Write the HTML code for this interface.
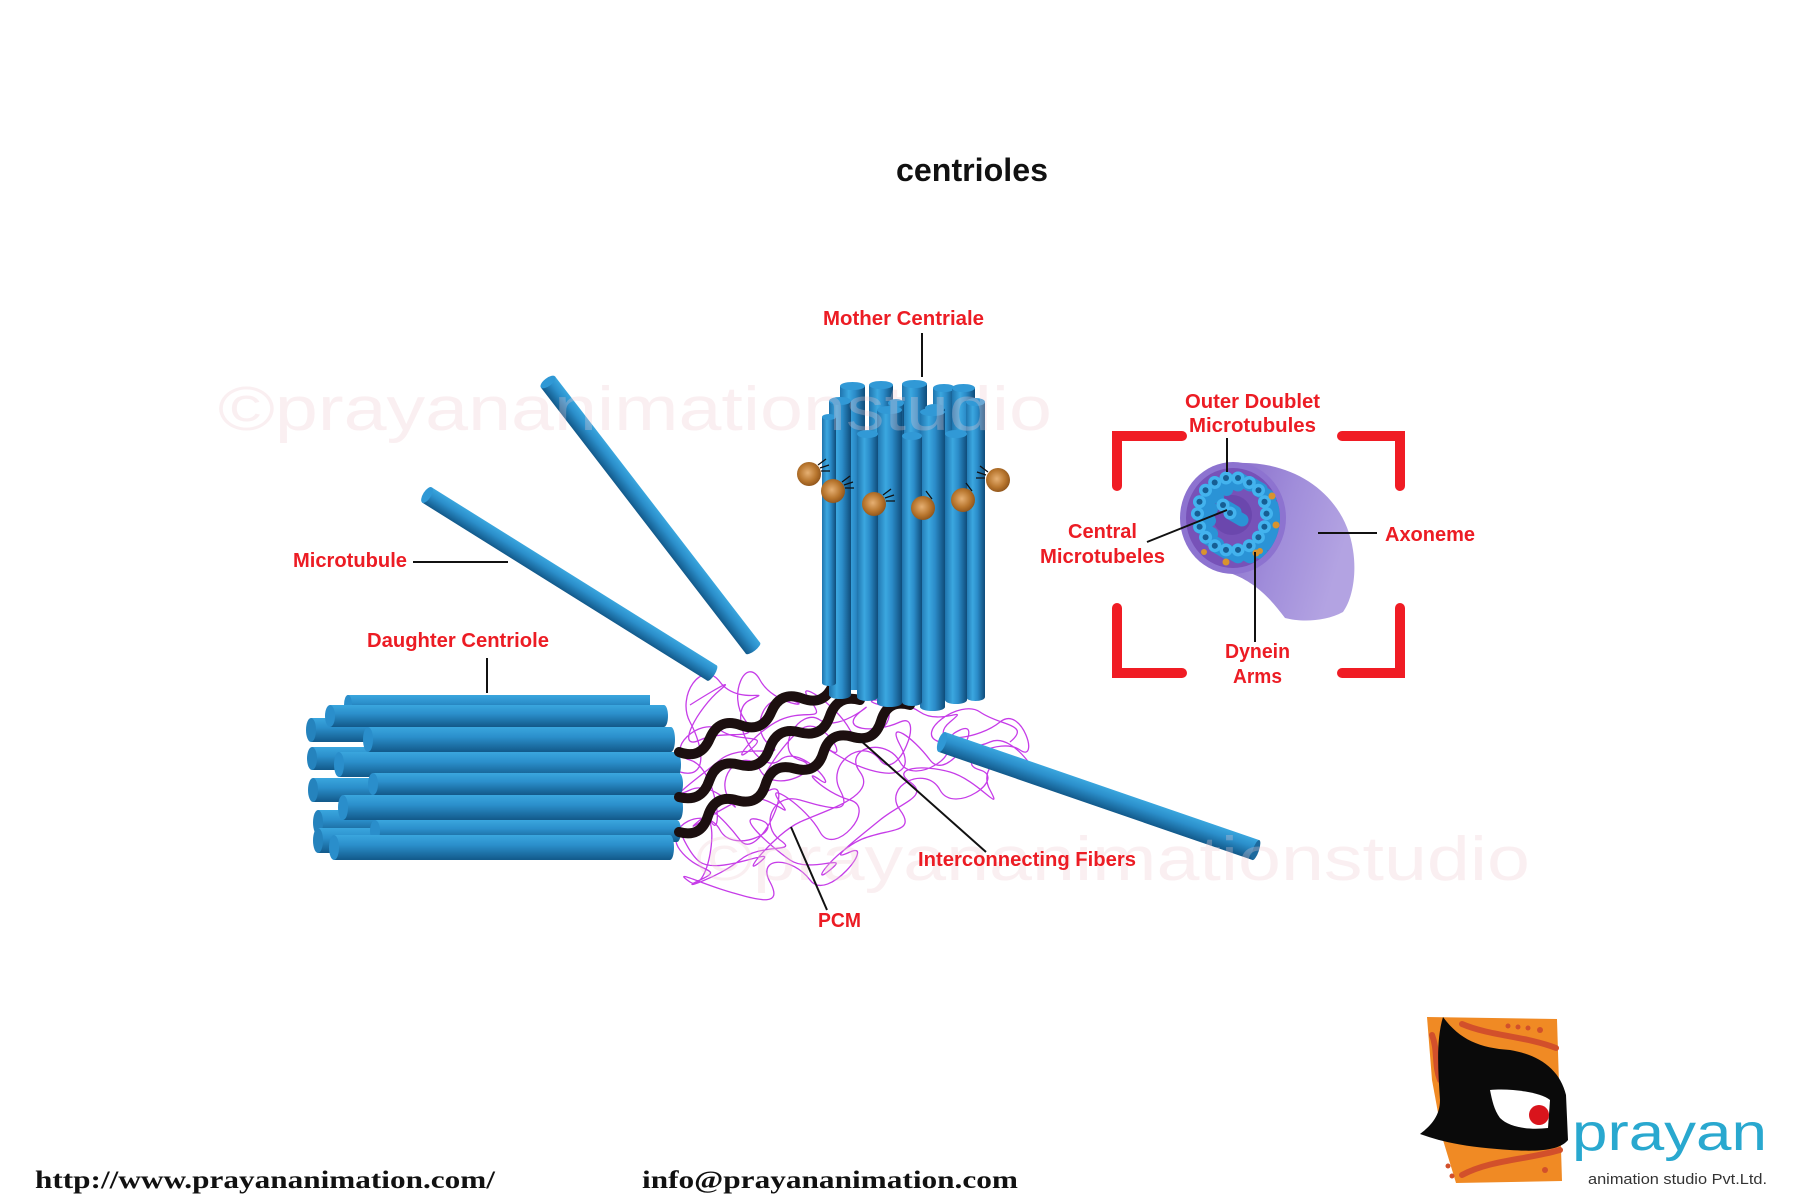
<!DOCTYPE html>
<html>
<head>
<meta charset="utf-8">
<style>
html,body{margin:0;padding:0;background:#fff;}
svg{display:block;}
.lbl{font-family:"Liberation Sans",Arial,sans-serif;font-weight:bold;fill:#ec1c24;font-size:20px;}
.ln{stroke:#111;stroke-width:2;fill:none;}
</style>
</head>
<body>
<svg width="1800" height="1200" viewBox="0 0 1800 1200" xmlns="http://www.w3.org/2000/svg">
<defs>
  <linearGradient id="vt" x1="0" y1="0" x2="1" y2="0">
    <stop offset="0" stop-color="#1f74ad"/>
    <stop offset="0.35" stop-color="#3ba7e0"/>
    <stop offset="0.6" stop-color="#2b8cc9"/>
    <stop offset="1" stop-color="#0f4c7a"/>
  </linearGradient>
  <linearGradient id="ht" x1="0" y1="0" x2="0" y2="1">
    <stop offset="0" stop-color="#3aa6de"/>
    <stop offset="0.4" stop-color="#2b8fcb"/>
    <stop offset="1" stop-color="#12598a"/>
  </linearGradient>
  <radialGradient id="ball" cx="0.45" cy="0.45" r="0.6">
    <stop offset="0" stop-color="#e6b073"/>
    <stop offset="0.6" stop-color="#b8762e"/>
    <stop offset="1" stop-color="#8a5018"/>
  </radialGradient>
  <linearGradient id="ax" x1="0" y1="0" x2="1" y2="0.3">
    <stop offset="0" stop-color="#7f60c4"/>
    <stop offset="0.6" stop-color="#a08dda"/>
    <stop offset="1" stop-color="#b3a3e2"/>
  </linearGradient>
  <clipPath id="faceclip"><ellipse cx="1233" cy="518" rx="47" ry="50"/></clipPath>
</defs>

<!-- Title -->
<text x="896" y="181" font-family="Liberation Sans, Arial, sans-serif" font-weight="bold" font-size="32" textLength="152" lengthAdjust="spacingAndGlyphs" fill="#111">centrioles</text>

<!-- PCM scribbles -->
<path fill="none" stroke="#c63ce8" stroke-width="1.3" d="M690,705 S742,672 720,690 S674,752 700,740 S763,744 745,720 S746,654 760,680 S818,708 790,700 S750,731 770,745 S742,742 720,760 S664,802 690,790 S748,824 730,800 S746,744 760,770 S828,768 800,760 S800,706 820,720 S882,694 860,712 S874,734 900,722 S898,784 880,760 S826,764 840,790 S828,808 800,800 S760,826 780,840 S762,842 740,860 S674,892 700,880 S698,874 680,850 S706,804 720,830 S788,828 760,820 S770,846 790,860 S852,852 830,870 S834,852 860,840 S918,834 900,810 S926,764 940,790 S1008,778 980,770 S1000,736 1020,750 S1022,704 1000,722 S934,742 960,730 S948,784 930,760 S886,719 900,745 S898,778 870,770 S810,736 830,750 S822,712 800,730 S744,802 770,790 S758,864 740,840 S696,794 710,820 S718,768 690,760 S700,716 720,730 S772,732 750,750 S754,732 780,720 S828,724 810,700 S836,704 850,730 S908,713 880,705 S900,698 920,712 S972,704 950,722 S964,754 990,742 S1048,792 1030,768 S976,764 990,790 S978,780 950,772 S890,768 910,782 S902,802 880,820 S824,864 850,852 S828,904 810,880 S756,856 770,882 S758,900 730,892 S670,868 690,882 S722,802 700,820 S714,812 740,800 S798,826 780,802 S806,806 820,832 S878,808 850,800 S800,766 820,780 S802,742 780,760 S724,712 750,700 S738,706 720,682 S676,696 690,722 S708,780 680,772 S680,848 700,862 S782,844 760,862 S774,834 800,822 S878,796 860,772 S886,736 900,762 S968,750 940,742 S960,698 980,712 S1032,724 1010,742"/>

<!-- Daughter centriole: back tubes -->
<g>
  <rect x="311" y="718" width="339" height="24" fill="url(#ht)"/><ellipse cx="311" cy="730" rx="5" ry="12" fill="#2583bd"/>
  <rect x="312" y="747" width="338" height="23" fill="url(#ht)"/><ellipse cx="312" cy="758.5" rx="5" ry="11.5" fill="#2583bd"/>
  <rect x="313" y="778" width="337" height="24" fill="url(#ht)"/><ellipse cx="313" cy="790" rx="5" ry="12" fill="#2583bd"/>
  <rect x="318" y="810" width="332" height="25" fill="url(#ht)"/><ellipse cx="318" cy="822.5" rx="5" ry="12.5" fill="#2583bd"/>
  <rect x="318" y="828" width="332" height="25" fill="url(#ht)"/><ellipse cx="318" cy="840.5" rx="5" ry="12.5" fill="#2583bd"/>
  <rect x="348" y="695" width="302" height="20" fill="url(#ht)"/><ellipse cx="348" cy="705" rx="4" ry="10" fill="#2a8ecb"/>
</g>
<!-- Daughter: front tubes -->
<g>
  <rect x="330" y="705" width="334" height="22" fill="url(#ht)"/><ellipse cx="330" cy="716" rx="5" ry="11" fill="#2a8ecb"/><ellipse cx="664" cy="716" rx="4" ry="11" fill="url(#ht)"/>
  <rect x="368" y="727" width="303" height="25" fill="url(#ht)"/><ellipse cx="368" cy="739.5" rx="5" ry="12.5" fill="#2a8ecb"/><ellipse cx="671" cy="739.5" rx="4" ry="12.5" fill="url(#ht)"/>
  <rect x="339" y="752" width="338" height="25" fill="url(#ht)"/><ellipse cx="339" cy="764.5" rx="5" ry="12.5" fill="#2a8ecb"/><ellipse cx="677" cy="764.5" rx="4" ry="12.5" fill="url(#ht)"/>
  <rect x="373" y="773" width="306" height="22" fill="url(#ht)"/><ellipse cx="373" cy="784" rx="5" ry="11" fill="#2a8ecb"/><ellipse cx="679" cy="784" rx="4" ry="11" fill="url(#ht)"/>
  <rect x="343" y="795" width="336" height="25" fill="url(#ht)"/><ellipse cx="343" cy="807.5" rx="5" ry="12.5" fill="#2a8ecb"/><ellipse cx="679" cy="807.5" rx="4" ry="12.5" fill="url(#ht)"/>
  <rect x="375" y="820" width="302" height="22" fill="url(#ht)"/><ellipse cx="375" cy="831" rx="5" ry="11" fill="#2a8ecb"/><ellipse cx="677" cy="831" rx="4" ry="11" fill="url(#ht)"/>
  <rect x="334" y="835" width="336" height="25" fill="url(#ht)"/><ellipse cx="334" cy="847.5" rx="5" ry="12.5" fill="#2a8ecb"/><ellipse cx="670" cy="847.5" rx="4" ry="12.5" fill="url(#ht)"/>
</g>

<!-- Interconnecting fibers -->
<g fill="none" stroke="#1c0f0f" stroke-width="10" stroke-linecap="round">
  <path d="M679,752 Q700.8,760 709.8,738.6 T740.6,725.2 T771.4,711.8 T802.2,698.4 T833,685"/>
  <path d="M679,797 Q701.6,803 709.2,780.8 T739.3,764.7 T769.5,748.5 T799.7,732.3 T829.8,716.2 T860,700"/>
  <path d="M679,832 Q701.1,838.1 707.9,816.1 T736.8,800.3 T765.6,784.4 T794.5,768.5 T823.4,752.6 T852.3,736.8 T881.1,720.9 T910,705"/>
</g>

<!-- Mother centriole tubes -->
<g>
  <rect x="840" y="386" width="25" height="304" fill="url(#vt)"/><ellipse cx="852.5" cy="386" rx="12.5" ry="4" fill="#3199d6"/>
  <rect x="869" y="385" width="24" height="305" fill="url(#vt)"/><ellipse cx="881" cy="385" rx="12" ry="4" fill="#3199d6"/>
  <rect x="902" y="384" width="25" height="306" fill="url(#vt)"/><ellipse cx="914.5" cy="384" rx="12.5" ry="4" fill="#3199d6"/>
  <rect x="933" y="388" width="22" height="302" fill="url(#vt)"/><ellipse cx="944" cy="388" rx="11" ry="4" fill="#3199d6"/>
  <rect x="952" y="388" width="23" height="302" fill="url(#vt)"/><ellipse cx="963.5" cy="388" rx="11.5" ry="4" fill="#3199d6"/>
  <rect x="829" y="401" width="22" height="294" fill="url(#vt)"/><ellipse cx="840" cy="401" rx="11" ry="4" fill="#3199d6"/><ellipse cx="840" cy="695" rx="11" ry="4" fill="url(#vt)"/>
  <rect x="888" y="403" width="16" height="297" fill="url(#vt)"/><ellipse cx="896" cy="403" rx="8" ry="4" fill="#3199d6"/>
  <rect x="925" y="408" width="20" height="297" fill="url(#vt)"/><ellipse cx="935" cy="408" rx="10" ry="4" fill="#3199d6"/>
  <rect x="966" y="402" width="19" height="295" fill="url(#vt)"/><ellipse cx="975.5" cy="402" rx="9.5" ry="4" fill="#3199d6"/><ellipse cx="975.5" cy="697" rx="9.5" ry="4" fill="url(#vt)"/>
  <rect x="822" y="417" width="14" height="266" fill="url(#vt)"/><ellipse cx="829" cy="417" rx="7" ry="3" fill="#3199d6"/><ellipse cx="829" cy="683" rx="7" ry="3" fill="url(#vt)"/>
  <rect x="877" y="410" width="25" height="293" fill="url(#vt)"/><ellipse cx="889.5" cy="410" rx="12.5" ry="4" fill="#3199d6"/><ellipse cx="889.5" cy="703" rx="12.5" ry="4" fill="url(#vt)"/>
  <rect x="920" y="412" width="25" height="295" fill="url(#vt)"/><ellipse cx="932.5" cy="412" rx="12.5" ry="4" fill="#3199d6"/><ellipse cx="932.5" cy="707" rx="12.5" ry="4" fill="url(#vt)"/>
  <rect x="857" y="434" width="21" height="263" fill="url(#vt)"/><ellipse cx="867.5" cy="434" rx="10.5" ry="4" fill="#3199d6"/><ellipse cx="867.5" cy="697" rx="10.5" ry="4" fill="url(#vt)"/>
  <rect x="902" y="436" width="20" height="266" fill="url(#vt)"/><ellipse cx="912" cy="436" rx="10" ry="4" fill="#3199d6"/><ellipse cx="912" cy="702" rx="10" ry="4" fill="url(#vt)"/>
  <rect x="945" y="434" width="22" height="266" fill="url(#vt)"/><ellipse cx="956" cy="434" rx="11" ry="4" fill="#3199d6"/><ellipse cx="956" cy="700" rx="11" ry="4" fill="url(#vt)"/>
</g>

<!-- Appendage balls -->
<g stroke="#111" stroke-width="1.3" fill="none">
  <path d="M818,465 l8,-6 M820,468 l9,-3 M821,471 l9,0"/>
  <path d="M842,482 l8,-6 M844,485 l9,-3 M845,488 l9,0"/>
  <path d="M883,495 l8,-6 M885,498 l9,-3 M886,501 l9,0"/>
  <path d="M932,499 l-6,-8 M929,501 l-9,-4 M927,504 l-9,0"/>
  <path d="M972,491 l-6,-8 M969,493 l-9,-4 M967,496 l-9,0"/>
  <path d="M988,472 l-8,-6 M986,475 l-9,-3 M985,478 l-9,0"/>
</g>
<g fill="url(#ball)">
  <circle cx="809" cy="474" r="12"/>
  <circle cx="833" cy="491" r="12"/>
  <circle cx="874" cy="504" r="12"/>
  <circle cx="923" cy="508" r="12"/>
  <circle cx="963" cy="500" r="12"/>
  <circle cx="998" cy="480" r="12"/>
</g>

<!-- Free microtubules -->
<g transform="translate(548 382) rotate(52.4)">
  <rect x="0" y="-9" width="336" height="18" fill="url(#ht)"/>
  <ellipse cx="336" cy="0" rx="3" ry="9" fill="url(#ht)"/>
  <ellipse cx="0" cy="0" rx="4" ry="9" fill="#2f98d5"/>
</g>
<g transform="translate(427 495) rotate(32)">
  <rect x="0" y="-9" width="336" height="18" fill="url(#ht)"/>
  <ellipse cx="336" cy="0" rx="3" ry="9" fill="url(#ht)"/>
  <ellipse cx="0" cy="0" rx="4" ry="9" fill="#2f98d5"/>
</g>
<g transform="translate(942 742) rotate(19)">
  <rect x="0" y="-10.5" width="332" height="21" fill="url(#ht)"/>
  <ellipse cx="332" cy="0" rx="3" ry="10.5" fill="#1d6a9e"/>
  <ellipse cx="0" cy="0" rx="4" ry="10.5" fill="#2f98d5"/>
</g>

<!-- Red bracket -->
<g stroke="#f01c24" stroke-width="10" fill="none" stroke-linecap="round" stroke-linejoin="miter">
  <path d="M1117,486 L1117,436 L1182,436"/>
  <path d="M1342,436 L1400,436 L1400,486"/>
  <path d="M1117,608 L1117,673 L1182,673"/>
  <path d="M1342,673 L1400,673 L1400,608"/>
</g>

<!-- Axoneme -->
<path d="M1235,463 C1295,460 1345,495 1353,550 C1357,575 1352,600 1343,612 C1325,622 1300,622 1285,618 C1270,598 1255,582 1230,573 L1200,540 L1200,480 Z" fill="url(#ax)"/>
<ellipse cx="1233" cy="518" rx="53" ry="56" fill="#8d73d0"/>
<ellipse cx="1233" cy="518" rx="47" ry="50" fill="#7752b8"/>
<ellipse cx="1232" cy="515" rx="20" ry="20" fill="#6b47ad"/>
<g clip-path="url(#faceclip)">
  <g stroke="#2a93d6" stroke-width="13" stroke-linecap="round">
    <path d="M1226,478 l12,7 M1238,478 l12,7 M1249.3,482.5 l12,7 M1258.5,490.3 l12,7 M1264.5,501.8 l12,7 M1266.5,513.6 l12,7 M1264.4,526.8 l12,7 M1258.4,537.2 l12,7 M1249.2,545.7 l12,7 M1238,549.9 l12,7 M1226,549.9 l12,7 M1214.8,545.7 l12,7 M1205.6,537.2 l12,7 M1199.6,526.8 l12,7 M1197.5,513.6 l12,7 M1199.5,501.8 l12,7 M1205.5,490.3 l12,7 M1214.7,482.5 l12,7 M1223,505 l12,7 M1230,513 l12,7"/>
  </g>
  <g fill="#43b3ee">
    <circle cx="1226" cy="478" r="6.5"/><circle cx="1238" cy="478" r="6.5"/>
    <circle cx="1249.3" cy="482.5" r="6.5"/><circle cx="1258.5" cy="490.3" r="6.5"/>
    <circle cx="1264.5" cy="501.8" r="6.5"/><circle cx="1266.5" cy="513.6" r="6.5"/>
    <circle cx="1264.4" cy="526.8" r="6.5"/><circle cx="1258.4" cy="537.2" r="6.5"/>
    <circle cx="1249.2" cy="545.7" r="6.5"/><circle cx="1238" cy="549.9" r="6.5"/>
    <circle cx="1226" cy="549.9" r="6.5"/><circle cx="1214.8" cy="545.7" r="6.5"/>
    <circle cx="1205.6" cy="537.2" r="6.5"/><circle cx="1199.6" cy="526.8" r="6.5"/>
    <circle cx="1197.5" cy="513.6" r="6.5"/><circle cx="1199.5" cy="501.8" r="6.5"/>
    <circle cx="1205.5" cy="490.3" r="6.5"/><circle cx="1214.7" cy="482.5" r="6.5"/>
    <circle cx="1223" cy="505" r="6.5"/><circle cx="1230" cy="513" r="6.5"/>
  </g>
  <g fill="#165e93">
    <circle cx="1226" cy="478" r="3"/><circle cx="1238" cy="478" r="3"/>
    <circle cx="1249.3" cy="482.5" r="3"/><circle cx="1258.5" cy="490.3" r="3"/>
    <circle cx="1264.5" cy="501.8" r="3"/><circle cx="1266.5" cy="513.6" r="3"/>
    <circle cx="1264.4" cy="526.8" r="3"/><circle cx="1258.4" cy="537.2" r="3"/>
    <circle cx="1249.2" cy="545.7" r="3"/><circle cx="1238" cy="549.9" r="3"/>
    <circle cx="1226" cy="549.9" r="3"/><circle cx="1214.8" cy="545.7" r="3"/>
    <circle cx="1205.6" cy="537.2" r="3"/><circle cx="1199.6" cy="526.8" r="3"/>
    <circle cx="1197.5" cy="513.6" r="3"/><circle cx="1199.5" cy="501.8" r="3"/>
    <circle cx="1205.5" cy="490.3" r="3"/><circle cx="1214.7" cy="482.5" r="3"/>
    <circle cx="1223" cy="505" r="3"/><circle cx="1230" cy="513" r="3"/>
  </g>
</g>
<g fill="#d8932e">
  <circle cx="1272" cy="496" r="3.5"/><circle cx="1276" cy="525" r="3.5"/>
  <circle cx="1256" cy="553" r="3.5"/><circle cx="1260" cy="551" r="3"/>
  <circle cx="1226" cy="562" r="3.5"/><circle cx="1204" cy="552" r="3"/>
</g>

<!-- Watermarks -->
<g font-family="Liberation Sans, Arial, sans-serif" font-size="62" fill="#eecbd1" fill-opacity="0.3">
  <text x="218" y="430" textLength="834" lengthAdjust="spacingAndGlyphs">©prayananimationstudio</text>
  <text x="696" y="880" textLength="834" lengthAdjust="spacingAndGlyphs">©prayananimationstudio</text>
</g>

<!-- Leader lines -->
<g class="ln">
  <line x1="922" y1="333" x2="922" y2="377"/>
  <line x1="413" y1="562" x2="508" y2="562"/>
  <line x1="487" y1="658" x2="487" y2="693"/>
  <line x1="986" y1="852" x2="860" y2="740"/>
  <line x1="827" y1="910" x2="791" y2="827"/>
  <line x1="1227" y1="438" x2="1227" y2="472"/>
  <line x1="1147" y1="542" x2="1227" y2="510"/>
  <line x1="1318" y1="533" x2="1377" y2="533"/>
  <line x1="1255" y1="552" x2="1255" y2="642"/>
</g>

<!-- Labels -->
<text class="lbl" x="823" y="325" font-size="21" textLength="161" lengthAdjust="spacingAndGlyphs">Mother Centriale</text>
<text class="lbl" x="293" y="567" textLength="114" lengthAdjust="spacingAndGlyphs">Microtubule</text>
<text class="lbl" x="367" y="647" textLength="182" lengthAdjust="spacingAndGlyphs">Daughter Centriole</text>
<text class="lbl" x="918" y="866" textLength="218" lengthAdjust="spacingAndGlyphs">Interconnecting Fibers</text>
<text class="lbl" x="818" y="927" textLength="43" lengthAdjust="spacingAndGlyphs">PCM</text>
<text class="lbl" x="1185" y="408" textLength="135" lengthAdjust="spacingAndGlyphs">Outer Doublet</text>
<text class="lbl" x="1189" y="432" textLength="127" lengthAdjust="spacingAndGlyphs">Microtubules</text>
<text class="lbl" x="1068" y="538" textLength="69" lengthAdjust="spacingAndGlyphs">Central</text>
<text class="lbl" x="1040" y="563" textLength="125" lengthAdjust="spacingAndGlyphs">Microtubeles</text>
<text class="lbl" x="1385" y="541" textLength="90" lengthAdjust="spacingAndGlyphs">Axoneme</text>
<text class="lbl" x="1225" y="658" textLength="65" lengthAdjust="spacingAndGlyphs">Dynein</text>
<text class="lbl" x="1233" y="683" textLength="49" lengthAdjust="spacingAndGlyphs">Arms</text>

<!-- Logo -->
<polygon points="1427,1017 1557,1019 1562,1181 1456,1183 1443,1140 1432,1080" fill="#f08a24"/>
<g fill="none" stroke="#d2502b" stroke-width="6" stroke-linecap="round">
  <path d="M1462,1024 C1490,1036 1525,1036 1556,1048"/>
  <path d="M1432,1035 C1438,1050 1434,1065 1440,1080"/>
  <path d="M1462,1175 C1490,1160 1525,1160 1560,1150"/>
</g>
<g fill="#d2502b">
  <circle cx="1508" cy="1026" r="2.5"/><circle cx="1518" cy="1027" r="2.5"/><circle cx="1528" cy="1028" r="2.5"/>
  <circle cx="1448" cy="1166" r="2.5"/><circle cx="1452" cy="1176" r="2.5"/>
  <circle cx="1545" cy="1170" r="3"/><circle cx="1540" cy="1030" r="3"/>
</g>
<path d="M1443,1017 C1460,1040 1480,1048 1510,1050 C1540,1055 1560,1070 1566,1095 L1568,1140 C1560,1150 1540,1152 1510,1150 C1480,1148 1450,1145 1420,1134 C1432,1125 1440,1115 1440,1100 C1438,1070 1436,1040 1443,1017 Z" fill="#0a0a0a"/>
<path d="M1490,1090 C1510,1088 1540,1092 1550,1100 L1548,1128 C1530,1130 1510,1128 1500,1118 C1494,1110 1492,1100 1490,1090 Z" fill="#ffffff"/>
<circle cx="1539" cy="1115" r="10" fill="#d9141c"/>
<text x="1572" y="1150" font-family="Liberation Sans, Arial, sans-serif" font-size="52" fill="#29a8cf" textLength="195" lengthAdjust="spacingAndGlyphs">prayan</text>
<text x="1588" y="1184" font-family="Liberation Sans, Arial, sans-serif" font-size="15" fill="#333" textLength="179" lengthAdjust="spacingAndGlyphs">animation studio Pvt.Ltd.</text>

<!-- Footer -->
<text x="35" y="1188" font-family="Liberation Serif, Times New Roman, serif" font-weight="bold" font-size="25" fill="#111" textLength="460" lengthAdjust="spacingAndGlyphs">http://www.prayananimation.com/</text>
<text x="642" y="1188" font-family="Liberation Serif, Times New Roman, serif" font-weight="bold" font-size="25" fill="#111" textLength="376" lengthAdjust="spacingAndGlyphs">info@prayananimation.com</text>
</svg>
</body>
</html>
